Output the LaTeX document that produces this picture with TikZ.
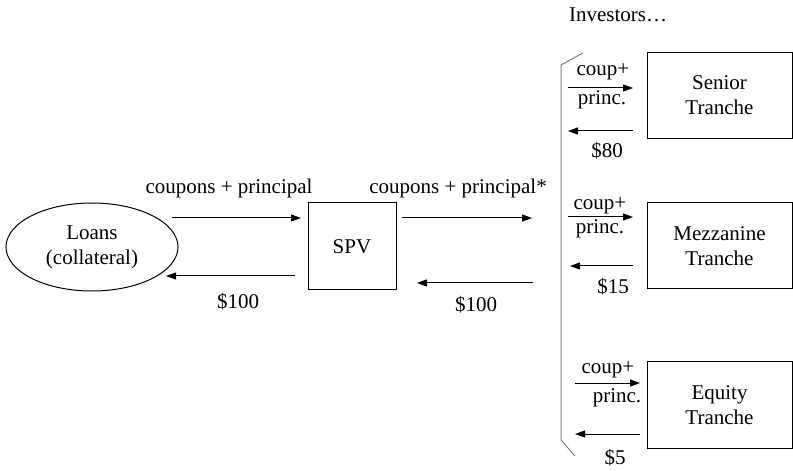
\documentclass[tikz,border=0pt]{standalone}
\usepackage{fontspec}
\setmainfont{Liberation Serif}
\usetikzlibrary{arrows.meta,shapes.geometric}
\tikzset{
	flow/.style={-{Triangle[length=10bp,width=7bp]}, line width=1bp},
	txt/.style={inner sep=0pt, align=center, font=\fontsize{21bp}{25bp}\selectfont},
	tranche/.style={txt, draw, line width=1bp, minimum width=145bp, minimum height=86bp}
}

\begin{document}
\begin{tikzpicture}[x=1bp, y=-1bp]
				\useasboundingbox (0,0) rectangle (793,471);
				
				\node[txt, draw, ellipse, line width=1bp, minimum width=172bp, minimum height=88bp] (loans) at (92,247) {Loans\\(collateral)};
				\node[txt, draw, line width=1bp, minimum width=88bp, minimum height=87bp] (spv) at (352,246.5) {SPV};
				
				\coordinate (lsA) at (172,218); \coordinate (lsB) at (301,218);
				\coordinate (slA) at (295,276); \coordinate (slB) at (166,276);
				\draw[flow] (lsA) -- (lsB);
				\draw[flow] (slA) -- (slB);
				\node[txt] (cpL) at (229,188) {coupons + principal};
				\node[txt] (pdL) at (238,302) {\$100};
				
				\coordinate (siA) at (402,218); \coordinate (siB) at (532,218);
				\coordinate (isA) at (533,283); \coordinate (isB) at (417,283);
				\draw[flow] (siA) -- (siB);
				\draw[flow] (isA) -- (isB);
				\node[txt] (cpR) at (458,188) {coupons + principal*};
				\node[txt] (pdR) at (476,305) {\$100};
				
				\node[txt] (inv) at (618,15) {Investors…};
				\draw[line width=1bp, black!50] (583,53) -- (561,65) -- (561,440) -- (575,456);
				
				\node[tranche] (senior) at (719.5,95.5) {Senior\\Tranche};
				\node[tranche] (mezz) at (719.5,246) {Mezzanine\\Tranche};
				\node[tranche] (equity) at (719.5,405) {Equity\\Tranche};
				
				\coordinate (s1) at (568,88); \coordinate (s2) at (633,88);
				\coordinate (s3) at (633,131); \coordinate (s4) at (568,131);
				\draw[flow] (s1) -- (s2);
				\draw[flow] (s3) -- (s4);
				\node[txt] (scp) at (603,72) {coup+};
				\node[txt] (spr) at (602,100) {princ.};
				\node[txt] (spd) at (607,151) {\$80};
				
				\coordinate (m1) at (568,217); \coordinate (m2) at (633,217);
				\coordinate (m3) at (633,266); \coordinate (m4) at (570,266);
				\draw[flow] (m1) -- (m2);
				\draw[flow] (m3) -- (m4);
				\node[txt] (mcp) at (600,206) {coup+};
				\node[txt] (mpr) at (600,229) {princ.};
				\node[txt] (mpd) at (613,287) {\$15};
				
				\coordinate (e1) at (575,383); \coordinate (e2) at (640,383);
				\coordinate (e3) at (640,434); \coordinate (e4) at (575,434);
				\draw[flow] (e1) -- (e2);
				\draw[flow] (e3) -- (e4);
				\node[txt] (ecp) at (608,370) {coup+};
				\node[txt] (epr) at (617,398) {princ.};
				\node[txt] (epd) at (615,458) {\$5};
			\end{tikzpicture}
\end{document}
